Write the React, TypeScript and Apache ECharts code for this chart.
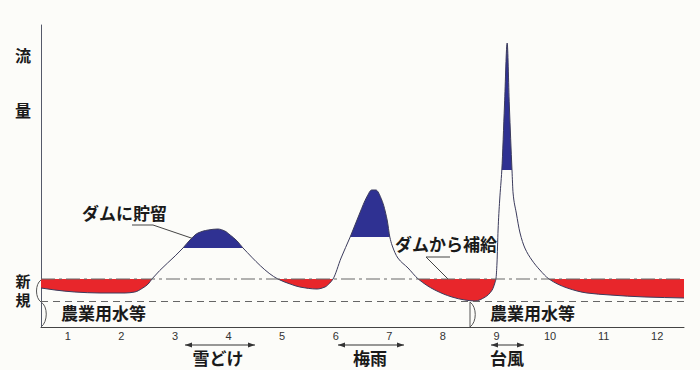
import React, { useEffect, useRef } from 'react';
import * as echarts from 'echarts';

// Month categories on the x axis
const months = ['1', '2', '3', '4', '5', '6', '7', '8', '9', '10', '11', '12'];

// River flow curve (x in months from start of Jan, y in relative flow units)
const curveX = [
  0.0, 0.26, 0.63, 1.1, 1.57, 1.75, 1.9, 2.0, 2.07, 2.65, 2.78, 2.93, 3.12, 3.3, 3.43, 3.53, 3.66, 3.77,
  4.42, 4.65, 4.83, 5.15, 5.3, 5.39, 5.45, 5.6, 5.77, 5.95, 6.08, 6.17, 6.25, 6.36, 6.46, 6.51,
  6.55, 6.66, 6.85, 7.04, 7.35, 7.67, 7.91, 8.1, 8.29, 8.42, 8.47, 8.49, 8.51, 8.53, 8.56, 8.6, 8.65,
  8.7, 8.74, 8.79, 8.81, 8.87, 8.94, 9.03, 9.16, 9.31, 9.48, 9.82, 10.19, 10.62, 11.27, 12.0,
];
const curveY = [
  39, 37, 35, 34, 34, 35, 39, 43, 48, 79, 87, 94, 97, 98, 96, 92, 86, 79,
  48, 43, 40, 38, 40, 44, 48, 69, 90, 114, 130, 137, 137, 127, 107, 90,
  82, 69, 59, 48, 37, 30, 27, 26, 30, 37, 44, 48, 64, 97, 127, 157, 222,
  284, 222, 157, 134, 114, 94, 79, 67, 57, 48, 39, 34, 32, 30, 29,
];

// Reference levels
const newLevel = 48; // 新規
const farmLevel = 25.5; // 農業用水等

// Supply from dam (red) ranges, storage (blue) ranges and their cut levels
const redRanges = [
  [0, 2.07],
  [4.42, 5.45],
  [7.04, 8.49],
  [9.48, 12],
];
const blueRanges = [
  [2.65, 3.77],
  [5.77, 6.51],
  [8.6, 8.79],
];
const blueCuts = [79, 90, 157];

const RED = '#e8262b';
const BLUE = '#2f3192';
const CURVE = '#3b3b5c';
const JP = '"Noto Sans CJK JP", "Noto Sans CJK SC", sans-serif';

// monotone (in x) tangents of the flow curve, used for a smooth path
function tangents(xs: number[], ys: number[]) {
  const n = xs.length;
  const d: number[] = [];
  for (let k = 0; k < n - 1; k++) d.push((ys[k + 1] - ys[k]) / (xs[k + 1] - xs[k]));
  const m: number[] = new Array(n).fill(0);
  m[0] = d[0];
  m[n - 1] = d[n - 2];
  for (let k = 1; k < n - 1; k++) {
    if (d[k - 1] * d[k] <= 0) m[k] = 0;
    else {
      const h0 = xs[k] - xs[k - 1];
      const h1 = xs[k + 1] - xs[k];
      const w1 = 2 * h1 + h0;
      const w2 = h1 + 2 * h0;
      m[k] = (w1 + w2) / (w1 / d[k - 1] + w2 / d[k]);
    }
  }
  return m;
}

export default function App() {
  const ref = useRef<HTMLDivElement>(null);

  useEffect(() => {
    if (!ref.current) return;
    const chart = echarts.init(ref.current, null, { renderer: 'svg' });
    const slopes = tangents(curveX, curveY);

    // items: red regions, blue regions, then the curve stroke
    const nRed = redRanges.length;
    const nBlue = blueRanges.length;
    const items = Array.from({ length: nRed + nBlue + 1 }, (_, i) => [i, 0]);

    const curveSegment = (api: any, ka: number, kb: number) => {
      let s = '';
      for (let k = ka; k < kb; k++) {
        const dx = curveX[k + 1] - curveX[k];
        const c1 = api.coord([curveX[k] + dx / 3, curveY[k] + (slopes[k] * dx) / 3]);
        const c2 = api.coord([curveX[k + 1] - dx / 3, curveY[k + 1] - (slopes[k + 1] * dx) / 3]);
        const p = api.coord([curveX[k + 1], curveY[k + 1]]);
        s += ` C${c1[0]},${c1[1]} ${c2[0]},${c2[1]} ${p[0]},${p[1]}`;
      }
      return s;
    };

    const txt = (text: string, x: number, y: number, size: number, align = 'left') => ({
      type: 'text',
      x,
      y,
      silent: true,
      style: {
        text,
        fill: '#1a1a1a',
        font: `bold ${size}px ${JP}`,
        align,
        verticalAlign: 'middle',
        textAlign: align,
        textVerticalAlign: 'middle',
      },
    });
    const seg = (pts: number[][], color = '#555') => ({
      type: 'polyline',
      silent: true,
      shape: { points: pts },
      style: { stroke: color, lineWidth: 1, fill: null },
    });
    const bez = (x1: number, y1: number, cx1: number, cy1: number, cx2: number, cy2: number, x2: number, y2: number) => ({
      type: 'bezierCurve',
      silent: true,
      shape: { x1, y1, cpx1: cx1, cpy1: cy1, cpx2: cx2, cpy2: cy2, x2, y2 },
      style: { stroke: '#555', lineWidth: 1, fill: null },
    });
    const arrow = (xa: number, xb: number, y: number) => [
      seg([[xa, y], [xb, y]], '#333'),
      {
        type: 'polygon',
        silent: true,
        shape: { points: [[xa, y], [xa + 7, y - 2.5], [xa + 7, y + 2.5]] },
        style: { fill: '#333' },
      },
      {
        type: 'polygon',
        silent: true,
        shape: { points: [[xb, y], [xb - 7, y - 2.5], [xb - 7, y + 2.5]] },
        style: { fill: '#333' },
      },
    ];

    chart.setOption({
      animation: false,
      backgroundColor: '#fcfcf9',
      grid: { left: 41, right: 16, top: 25, bottom: 43 },
      xAxis: [
        {
          type: 'category',
          data: months,
          boundaryGap: true,
          position: 'bottom',
          axisLine: { lineStyle: { color: '#444', width: 1 } },
          axisTick: { interval: 0, length: 11, lineStyle: { color: '#444' } },
          axisLabel: { interval: 0, color: '#333', fontSize: 11, margin: 3, fontFamily: 'Liberation Sans' },
          splitLine: { show: false },
        },
        { type: 'value', min: 0, max: 12, show: false },
      ],
      yAxis: {
        type: 'value',
        min: 0,
        max: 302,
        axisLine: { show: true, lineStyle: { color: '#555a6a', width: 1 } },
        axisTick: { show: false },
        axisLabel: { show: false },
        splitLine: { show: false },
      },
      series: [
        {
          type: 'line',
          xAxisIndex: 1,
          data: [[0, newLevel], [12, newLevel]],
          symbol: 'none',
          silent: true,
          z: 4,
          lineStyle: { color: '#666', width: 1, type: [14, 4, 3, 4] },
        },
        {
          type: 'line',
          xAxisIndex: 1,
          data: [[0, farmLevel], [12, farmLevel]],
          symbol: 'none',
          silent: true,
          z: 4,
          lineStyle: { color: '#666', width: 1, type: [7, 5] },
        },
        {
          type: 'custom',
          xAxisIndex: 1,
          silent: true,
          data: items,
          z: 3,
          renderItem: (params: any, api: any) => {
            const i = params.dataIndex;
            if (i === nRed + nBlue) {
              const p0 = api.coord([curveX[0], curveY[0]]);
              return {
                type: 'path',
                shape: { pathData: `M${p0[0]},${p0[1]}` + curveSegment(api, 0, curveX.length - 1) },
                style: { fill: null, stroke: CURVE, lineWidth: 1 },
                z2: 10,
              };
            }
            const isRed = i < nRed;
            const j = i - nRed;
            const [x0, x1] = isRed ? redRanges[i] : blueRanges[j];
            const lvl = isRed ? newLevel : blueCuts[j];
            const ka = curveX.findIndex((x) => x >= x0 - 1e-9);
            let kb = ka;
            while (kb + 1 < curveX.length && curveX[kb + 1] <= x1 + 1e-9) kb++;
            const s = api.coord([x0, lvl]);
            const a = api.coord([curveX[ka], curveY[ka]]);
            const e = api.coord([x1, lvl]);
            const d = `M${s[0]},${s[1]} L${a[0]},${a[1]}` + curveSegment(api, ka, kb) + ` L${e[0]},${e[1]} Z`;
            return {
              type: 'path',
              shape: { pathData: d },
              style: { fill: isRed ? RED : BLUE, stroke: null },
              z2: 1,
            };
          },
        },
      ],
      graphic: [
        txt('流', 23, 55, 16, 'center'),
        txt('量', 23, 110, 16, 'center'),
        txt('新', 23, 280.5, 15, 'center'),
        txt('規', 23, 299.5, 15, 'center'),
        txt('ダムに貯留', 82, 212, 17),
        txt('ダムから補給', 395, 243, 17),
        txt('農業用水等', 61, 312, 17),
        txt('農業用水等', 490, 312, 17),
        txt('雪どけ', 218, 357, 17, 'center'),
        txt('梅雨', 370, 357, 17, 'center'),
        txt('台風', 507, 357, 17, 'center'),
        seg([[132, 225], [153, 225], [203, 242]], '#444'),
        seg([[450, 257], [426, 257], [453, 284]], '#444'),
        bez(41, 280, 35, 284, 35, 298, 41, 302),
        bez(41, 302, 48, 306, 48, 322, 41, 327),
        seg([[470, 302], [470, 327]]),
        bez(470, 302, 477, 307, 477, 322, 470, 327),
        ...arrow(185, 255, 345),
        ...arrow(338, 404, 345),
        ...arrow(491, 524, 345),
      ],
    });

    return () => chart.dispose();
  }, []);

  return <div ref={ref} style={{ position: 'absolute', left: 0, top: 0, width: 700, height: 370 }} />;
}
